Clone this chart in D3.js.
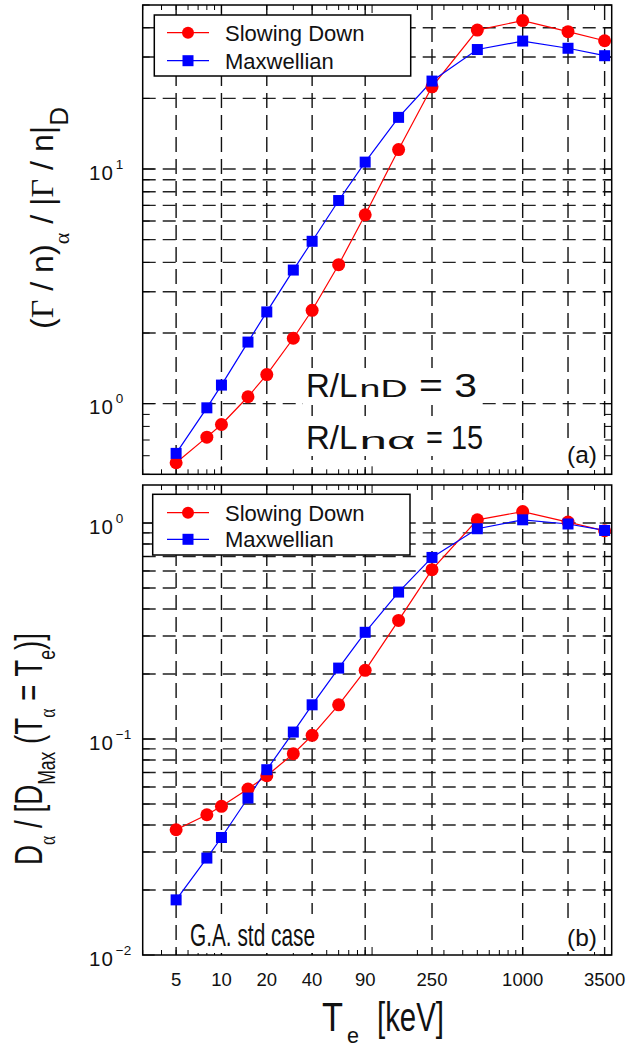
<!DOCTYPE html>
<html><head><meta charset="utf-8">
<script src="https://cdn.jsdelivr.net/npm/d3@7"></script>
<style>html,body{margin:0;padding:0;background:#fff;}svg{display:block;font-family:"Liberation Sans",Arial,sans-serif;}</style>
</head><body>
<script>
// ---- data ----
const temps = [5, 8, 10, 15, 20, 30, 40, 60, 90, 150, 250, 500, 1000, 2000, 3500];
const fluxSlowingDown = [0.56, 0.72, 0.815, 1.07, 1.33, 1.90, 2.50, 3.91, 6.38, 12.1, 22.4, 39.1, 42.9, 38.5, 35.2];
const fluxMaxwellian = [0.614, 0.96, 1.20, 1.83, 2.46, 3.71, 4.92, 7.34, 10.7, 16.6, 23.7, 32.3, 35.1, 32.7, 30.4];
const diffSlowingDown = [0.038, 0.0446, 0.0488, 0.0587, 0.0676, 0.0855, 0.104, 0.144, 0.208, 0.354, 0.608, 1.035, 1.13, 1.01, 0.921];
const diffMaxwellian = [0.018, 0.0281, 0.035, 0.0533, 0.0721, 0.1077, 0.144, 0.213, 0.312, 0.479, 0.693, 0.941, 1.035, 0.99, 0.924];
const xTickLabels = [5, 10, 20, 40, 90, 250, 1000, 3500];
const xGridValues = [5, 10, 20, 40, 90, 250, 1000, 2000, 3500];
const gridA = [1, 2, 3, 4, 5, 6, 7, 8, 9, 10, 20, 30, 40];
const gridB = [0.02, 0.03, 0.04, 0.05, 0.06, 0.07, 0.08, 0.09, 0.1, 0.2, 0.3, 0.4, 0.5, 0.6, 0.7, 0.8, 0.9, 1.0];
const decadesA = [{v: 1, e: "0"}, {v: 10, e: "1"}];
const decadesB = [{v: 0.01, e: "\u22122"}, {v: 0.1, e: "\u22121"}, {v: 1, e: "0"}];
const seriesNames = ["Slowing Down", "Maxwellian"];

const W = 630, H = 1054;
const svg = d3.select("body").append("svg").attr("width", W).attr("height", H);

const L = 142.7, R = 611.7;
const x = d3.scaleLog().domain([3, 3900]).range([L, R]);

const panels = [
  {top: 5, bot: 474.3, dom: [0.5, 50], sd: fluxSlowingDown, mx: fluxMaxwellian, grid: gridA, dec: decadesA,
   legend: {x0: 154.3, y0: 15, x1: 410.7, y1: 76, r1: 32.7, r2: 60.7}},
  {top: 485, bot: 955, dom: [0.01, 1.5], sd: diffSlowingDown, mx: diffMaxwellian, grid: gridB, dec: decadesB,
   legend: {x0: 152.7, y0: 494.3, x1: 410, y1: 555, r1: 512.7, r2: 539.3}}
];

function minorValues(lo, hi) {
  const out = [];
  for (let e = -3; e <= 4; e++) for (let m = 1; m <= 9; m++) {
    const v = m * Math.pow(10, e);
    if (v >= lo * 0.999 && v <= hi * 1.001) out.push({v, major: m === 1});
  }
  return out;
}

panels.forEach(p => {
  const y = d3.scaleLog().domain(p.dom).range([p.bot, p.top]);
  p.y = y;
  const g = svg.append("g");
  // grid
  g.selectAll(".hg").data(p.grid).enter().append("line")
    .attr("x1", L).attr("x2", R).attr("y1", d => y(d)).attr("y2", d => y(d))
    .attr("stroke", "#222").attr("stroke-width", 1.4).attr("stroke-dasharray", "13,7");
  g.selectAll(".vg").data(xGridValues).enter().append("line")
    .attr("x1", d => x(d)).attr("x2", d => x(d)).attr("y1", p.top).attr("y2", p.bot)
    .attr("stroke", "#111").attr("stroke-width", 1.4).attr("stroke-dasharray", "15,7");
  // ticks
  const xt = minorValues(3, 3900);
  xt.forEach(t => {
    const len = t.major ? 8 : 5;
    g.append("line").attr("x1", x(t.v)).attr("x2", x(t.v)).attr("y1", p.bot).attr("y2", p.bot - len).attr("stroke", "#000");
    g.append("line").attr("x1", x(t.v)).attr("x2", x(t.v)).attr("y1", p.top).attr("y2", p.top + len).attr("stroke", "#000");
  });
  const yt = minorValues(p.dom[0], p.dom[1]);
  yt.forEach(t => {
    const len = t.major ? 12 : 7;
    g.append("line").attr("x1", L).attr("x2", L + len).attr("y1", y(t.v)).attr("y2", y(t.v)).attr("stroke", "#000");
    g.append("line").attr("x1", R).attr("x2", R - len).attr("y1", y(t.v)).attr("y2", y(t.v)).attr("stroke", "#000");
  });
  // y tick labels
  p.dec.forEach(d => {
    const t = svg.append("text").attr("x", 89).attr("y", y(d.v) + 10.5).attr("font-size", 20.5).attr("letter-spacing", 1).attr("fill", "#111");
    t.append("tspan").text("10");
    t.append("tspan").attr("dx", 2).attr("dy", -11).attr("font-size", 13.5).attr("letter-spacing", 0).text(d.e);
  });
  // lines + markers
  const line = d3.line().x((d, i) => x(temps[i])).y(d => y(d));
  g.append("path").datum(p.sd).attr("d", line).attr("fill", "none").attr("stroke", "#ff0000").attr("stroke-width", 1.2);
  g.append("path").datum(p.mx).attr("d", line).attr("fill", "none").attr("stroke", "#0000ff").attr("stroke-width", 1.2);
  g.selectAll(".c").data(p.sd).enter().append("circle")
    .attr("cx", (d, i) => x(temps[i])).attr("cy", d => y(d)).attr("r", 6.5).attr("fill", "#ff0000");
  g.selectAll(".s").data(p.mx).enter().append("rect")
    .attr("x", (d, i) => x(temps[i]) - 5.5).attr("y", d => y(d) - 5.5).attr("width", 11).attr("height", 11).attr("fill", "#0000ff");
  // legend
  const lg = p.legend;
  g.append("rect").attr("x", lg.x0).attr("y", lg.y0).attr("width", lg.x1 - lg.x0).attr("height", lg.y1 - lg.y0)
    .attr("fill", "#fff").attr("stroke", "#000").attr("stroke-width", 1.5);
  [[lg.r1, "#ff0000", "c"], [lg.r2, "#0000ff", "s"]].forEach((row, i) => {
    g.append("line").attr("x1", 167).attr("x2", 209).attr("y1", row[0]).attr("y2", row[0]).attr("stroke", row[1]).attr("stroke-width", 1.2);
    if (row[2] === "c") g.append("circle").attr("cx", 188).attr("cy", row[0]).attr("r", 6).attr("fill", row[1]);
    else g.append("rect").attr("x", 182.5).attr("y", row[0] - 5.5).attr("width", 11).attr("height", 11).attr("fill", row[1]);
    g.append("text").attr("x", 225).attr("y", row[0] + 8).attr("font-size", 22).attr("fill", "#111").text(seriesNames[i]);
  });
  // frame
  g.append("rect").attr("x", L).attr("y", p.top).attr("width", R - L).attr("height", p.bot - p.top)
    .attr("fill", "none").attr("stroke", "#000").attr("stroke-width", 1.5);
});

// texts with white background
function bgText(xp, yp, size, str, len) {
  const t = svg.append("text").attr("x", xp).attr("y", yp).attr("font-size", size).attr("fill", "#111").text(str);
  if (len) t.attr("textLength", len).attr("lengthAdjust", "spacingAndGlyphs");
  return t;
}
function whiteBox(x0, y0, x1, y1) {
  svg.append("rect").attr("x", x0).attr("y", y0).attr("width", x1 - x0).attr("height", y1 - y0).attr("fill", "#fff");
}
whiteBox(303, 368, 482, 405);
whiteBox(303, 420, 486, 456);
bgText(306, 397, 33, "R/L");
bgText(359.5, 397, 23.5, "nD", 48);
bgText(419, 397, 33, "= 3", 58);
bgText(306, 449, 33, "R/L");
bgText(359.5, 449, 23.5, "n\u03b1", 56);
bgText(426, 449, 33, "= 15", 57);

whiteBox(566, 443, 600, 470);
bgText(567, 462.5, 24.5, "(a)");
whiteBox(189, 914, 318, 953);
bgText(190, 946, 32, "G.A. std case", 125);
whiteBox(567, 924, 600, 952);
bgText(567, 945.5, 24.5, "(b)");

// x tick labels
svg.selectAll(".xl").data(xTickLabels).enter().append("text")
  .attr("x", d => x(d)).attr("y", 986).attr("text-anchor", "middle").attr("font-size", 18.5).attr("fill", "#111").text(d => d);

// x title
bgText(322, 1031, 40, "T", 21);
bgText(347, 1043, 22, "e", 12);
bgText(377, 1031, 40, "[keV]", 67);

// rotated y labels
function vlabel(cx, cy, targetLen, build) {
  const g = svg.append("g").attr("transform", `translate(${cx},${cy}) rotate(-90)`);
  const t = g.append("text").attr("fill", "#111");
  build(t);
  const bb = t.node().getBBox();
  const s = targetLen / bb.width;
  t.attr("transform", `scale(${s},1) translate(${-bb.x - bb.width / 2},0)`);
}
const serif = "Liberation Serif, Times New Roman, serif";
vlabel(53, 218, 222, t => {
  t.attr("font-size", 32);
  t.append("tspan").text("(");
  t.append("tspan").attr("font-family", serif).text("\u0393");
  t.append("tspan").text(" / n)");
  t.append("tspan").attr("font-size", 22).attr("dy", 16).attr("font-family", serif).text("\u03b1");
  t.append("tspan").attr("dy", -16).text(" / |");
  t.append("tspan").attr("font-family", serif).text("\u0393");
  t.append("tspan").text(" / n|");
  t.append("tspan").attr("font-size", 26).attr("dy", 15).text("D");
});
vlabel(42, 749, 232, t => {
  t.attr("font-size", 38);
  t.append("tspan").text("D");
  t.append("tspan").attr("font-size", 24).attr("dy", 13).attr("font-family", serif).text("\u03b1");
  t.append("tspan").attr("dy", -13).text(" / [D");
  t.append("tspan").attr("font-size", 24).attr("dy", 13).text("Max");
  t.append("tspan").attr("dy", -13).text(" (T");
  t.append("tspan").attr("font-size", 24).attr("dy", 13).attr("font-family", serif).text("\u03b1");
  t.append("tspan").attr("dy", -13).text(" = T");
  t.append("tspan").attr("font-size", 24).attr("dy", 13).text("e");
  t.append("tspan").attr("dy", -13).text(")]");
});
</script>
</body></html>
